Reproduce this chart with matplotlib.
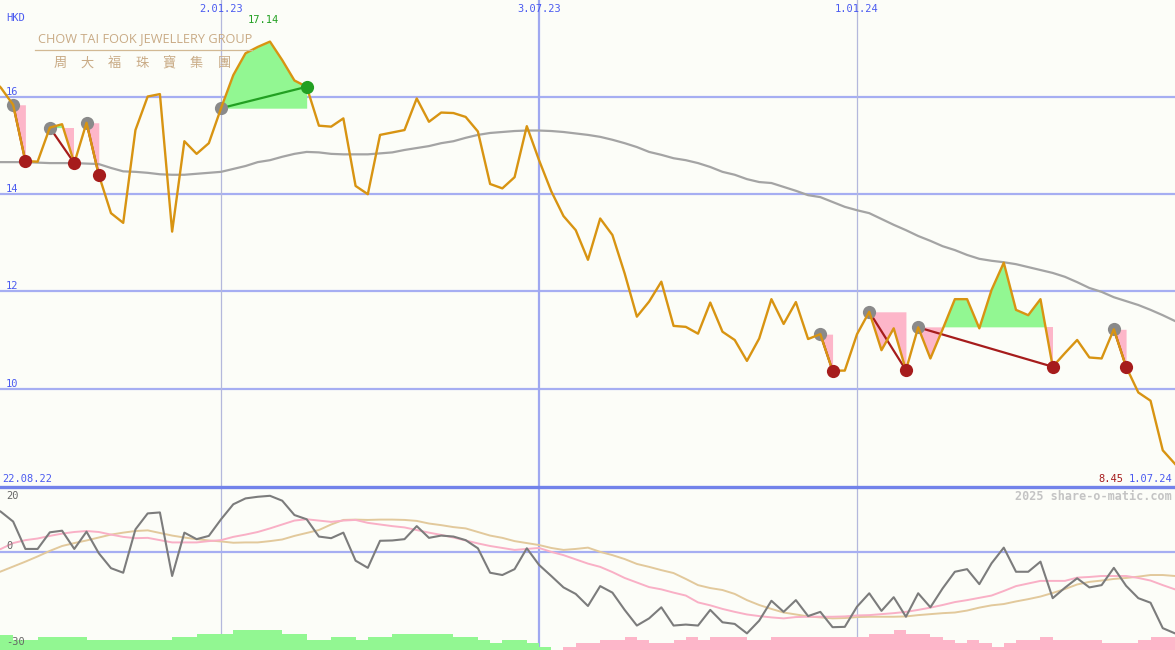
import numpy as np
import matplotlib.pyplot as plt
from matplotlib.lines import Line2D

# weekly closes, 22.08.22 .. 1.07.24 (HKD)
price = [16.45, 16.19, 15.84, 14.68, 14.67, 15.37, 15.44, 14.64, 15.47, 14.40,
         13.61, 13.41, 15.32, 16.01, 16.06, 13.23, 15.09, 14.83, 15.05, 15.77,
         16.45, 16.90, 17.03, 17.14, 16.76, 16.34, 16.21, 15.41, 15.39, 15.56,
         14.17, 14.00, 15.22, 15.27, 15.32, 15.97, 15.49, 15.68, 15.67, 15.59,
         15.29, 14.21, 14.12, 14.35, 15.40, 14.70, 14.06, 13.55, 13.26, 12.65,
         13.50, 13.16, 12.37, 11.48, 11.79, 12.20, 11.29, 11.27, 11.13, 11.77,
         11.17, 11.00, 10.57, 11.03, 11.84, 11.33, 11.78, 11.02, 11.12, 10.37,
         10.37, 11.12, 11.58, 10.79, 11.24, 10.38, 11.26, 10.62, 11.22, 11.84,
         11.84, 11.24, 12.03, 12.59, 11.62, 11.51, 11.84, 10.45, 10.73, 11.00,
         10.64, 10.62, 11.22, 10.45, 9.92, 9.75, 8.73, 8.45]

# slow moving average (grey)
ma = [14.66, 14.66, 14.66, 14.66, 14.65, 14.64, 14.64, 14.64, 14.63, 14.62,
      14.54, 14.47, 14.46, 14.44, 14.41, 14.40, 14.40, 14.42, 14.44, 14.46,
      14.52, 14.58, 14.66, 14.70, 14.77, 14.83, 14.87, 14.86, 14.83, 14.82,
      14.82, 14.82, 14.84, 14.86, 14.91, 14.95, 14.99, 15.05, 15.09, 15.16,
      15.22, 15.26, 15.28, 15.30, 15.31, 15.31, 15.30, 15.28, 15.25, 15.22,
      15.18, 15.12, 15.05, 14.97, 14.87, 14.81, 14.74, 14.70, 14.64, 14.56,
      14.46, 14.40, 14.31, 14.25, 14.23, 14.15, 14.07, 13.98, 13.94, 13.84,
      13.74, 13.67, 13.61, 13.49, 13.37, 13.26, 13.14, 13.04, 12.93, 12.85,
      12.75, 12.67, 12.63, 12.60, 12.56, 12.50, 12.44, 12.38, 12.30, 12.19,
      12.07, 11.99, 11.88, 11.80, 11.72, 11.62, 11.51, 11.39]

# indicator panel
osc = [14.5, 12.4, 9.4, 1.0, 1.0, 6.1, 6.6, 1.0, 6.3, -0.3,
       -4.9, -6.3, 7.0, 11.9, 12.2, -7.3, 6.0, 4.0, 5.0, 10.1,
       14.7, 16.5, 17.0, 17.3, 15.8, 11.4, 10.1, 4.8, 4.3, 6.0,
       -2.6, -4.8, 3.5, 3.6, 4.0, 8.0, 4.4, 5.1, 4.8, 3.7,
       1.2, -6.3, -7.0, -5.2, 1.2, -3.9, -7.3, -10.8, -12.8, -16.5,
       -10.4, -12.4, -17.7, -22.5, -20.3, -16.9, -22.5, -22.2, -22.5, -17.7,
       -21.5, -22.0, -24.9, -21.0, -14.9, -18.3, -14.7, -19.6, -18.3, -23.0,
       -22.9, -16.7, -12.6, -18.0, -13.8, -19.8, -12.6, -16.9, -11.1, -6.0,
       -5.2, -9.8, -3.4, 1.4, -6.0, -6.0, -2.9, -14.1, -10.9, -8.0,
       -10.8, -10.1, -4.8, -10.3, -14.1, -15.5, -23.3, -24.9]
osc_fast = [0.1, 1.0, 2.8, 3.7, 4.2, 5.0, 5.7, 6.2, 6.5, 6.2,
            5.4, 4.7, 4.3, 4.4, 3.7, 3.0, 3.0, 3.0, 3.4, 3.7,
            4.7, 5.4, 6.2, 7.3, 8.5, 9.7, 10.1, 9.7, 9.3, 9.7,
            9.9, 9.0, 8.5, 8.0, 7.6, 6.8, 6.0, 5.3, 4.5, 3.6,
            2.7, 1.9, 1.3, 0.7, 1.0, 1.3, 0.1, -0.9, -2.2, -3.5,
            -4.5, -6.1, -7.9, -9.3, -10.7, -11.4, -12.4, -13.3, -15.4, -16.3,
            -17.4, -18.3, -19.1, -19.6, -20.0, -20.3, -19.9, -19.8, -19.8, -19.8,
            -19.7, -19.4, -19.3, -19.0, -18.7, -18.3, -17.7, -17.0, -16.2, -15.3,
            -14.7, -14.0, -13.3, -11.9, -10.4, -9.6, -8.8, -8.8, -8.8, -7.8,
            -7.6, -7.3, -7.3, -7.3, -7.9, -8.7, -10.1, -11.4]
osc_slow = [-7.3, -5.9, -4.4, -2.9, -1.3, 0.4, 1.9, 2.8, 3.6, 4.5,
            5.4, 6.0, 6.5, 6.7, 5.9, 5.1, 4.5, 4.0, 3.6, 3.3,
            2.9, 3.0, 3.0, 3.4, 3.9, 5.0, 5.9, 6.8, 8.5, 9.9,
            10.0, 9.9, 10.0, 10.0, 9.9, 9.6, 8.8, 8.3, 7.7, 7.3,
            6.2, 5.1, 4.4, 3.4, 2.8, 2.2, 1.3, 0.7, 1.0, 1.4,
            0.1, -0.9, -2.1, -3.6, -4.5, -5.5, -6.4, -8.2, -10.1, -11.0,
            -11.6, -12.8, -14.7, -16.2, -17.4, -18.5, -19.1, -19.7, -20.0, -20.3,
            -20.2, -19.9, -19.8, -19.8, -19.8, -19.7, -19.3, -19.0, -18.7, -18.5,
            -17.9, -17.0, -16.3, -15.9, -15.1, -14.4, -13.6, -12.5, -11.3, -9.9,
            -9.1, -8.7, -8.2, -7.9, -7.5, -7.0, -7.0, -7.3]
# trend histogram (+ green / - pink), one per week
trend = [4.5, 4.5, 3, 3, 4, 4, 4, 4, 3, 3,
         3, 3, 3, 3, 3, 4, 4, 5, 5, 5,
         6, 6, 6, 6, 5, 5, 3, 3, 4, 4,
         3, 4, 4, 5, 5, 5, 5, 5, 4, 4,
         3, 2, 3, 3, 2, 1, 0, -1, -2, -2,
         -3, -3, -4, -3, -2, -2, -3, -4, -3, -4,
         -4, -4, -3, -3, -4, -4, -4, -4, -4, -4,
         -4, -4, -5, -5, -6, -5, -5, -4, -3, -2,
         -3, -2, -1, -2, -3, -3, -4, -3, -3, -3,
         -3, -2, -2, -2, -3, -4, -4]

# swing signals: start week (grey dot) -> end week
sig_start = [2, 5, 8, 19, 68, 72, 76, 92]
sig_end = [3, 7, 9, 26, 69, 75, 87, 93]

date_weeks = [19, 45, 71]
date_labels = ['2.01.23', '3.07.23', '1.01.24']
first_date = '22.08.22'
last_date = '1.07.24'
price_ticks = [16, 14, 12, 10]

W, H = 1175, 650
bg = '#fcfdf8'
blue_txt = '#4a5af0'
grid_c = '#a6aef2'
mono = 'DejaVu Sans Mono'

def px(x, y):
    return x / W, 1 - y / H

weeks = np.arange(len(price))
p = np.array(price)

fig = plt.figure(figsize=(W / 100, H / 100), dpi=100)
fig.patch.set_facecolor(bg)
ax = fig.add_axes([0, 163 / H, 1, 487 / H])
ax2 = fig.add_axes([0, 0, 1, 163 / H])
for a in (ax, ax2):
    a.set_facecolor(bg)
    a.set_xlim(0.925, 97.0)
    a.axis('off')
ax.set_ylim(7.975, 17.996)
ax2.set_ylim(-30, 20)

# grid
for v in price_ticks:
    ax.axhline(v, color=grid_c, lw=1.6, zorder=1)
    ax.text(0.005, v, str(v), transform=ax.get_yaxis_transform(), color=blue_txt,
            fontsize=7.5, family=mono, va='bottom', ha='left')
for w, lbl in zip(date_weeks, date_labels):
    thick = lbl.startswith('3.07')
    for a in (ax, ax2):
        a.axvline(w, color='#9fa8f0' if thick else '#b4b8dc', lw=1.6 if thick else 0.9, zorder=1)
    ax.text(w, 1 - 9 / 487, lbl, transform=ax.get_xaxis_transform(), color=blue_txt,
            fontsize=7.5, family=mono, ha='center', va='center')

# logo
fig.text(*px(145, 39), 'CHOW TAI FOOK JEWELLERY GROUP', color='#c9ab86', fontsize=9.2,
         family='Open Sans', ha='center', va='center')
fig.add_artist(Line2D([35 / W, 252 / W], [1 - 50 / H] * 2, color='#d2b994', lw=0.9))
for cx, ch in zip(np.linspace(60, 224, 7), '周大福珠寶集團'):
    fig.text(*px(cx, 63), ch, color='#c9ab86', fontsize=9.5, family='Noto Sans CJK TC',
             ha='center', va='center')

# swing signals
for s, e in zip(sig_start, sig_end):
    lvl = p[s]
    xs, ys = weeks[s:e + 1], p[s:e + 1]
    ax.fill_between(xs, lvl, ys, where=ys >= lvl, interpolate=True, color='#92f792', lw=0, zorder=2)
    ax.fill_between(xs, lvl, ys, where=ys <= lvl, interpolate=True, color='#fdb6c9', lw=0, zorder=2)
    c = '#22a022' if p[e] > lvl else '#a61c1c'
    ax.plot([s, e], [lvl, p[e]], color=c, lw=1.6, zorder=3)
    ax.plot(s, lvl, 'o', ms=9.5, color='#8a8a8a', mec='none', zorder=3.5)
    ax.plot(e, p[e], 'o', ms=9.5, color=c, mec='none', zorder=5)

ax.plot(weeks, ma, color='#a4a4a4', lw=1.6, zorder=2.5)
ax.plot(weeks, p, color='#d89412', lw=1.7, zorder=4)

top = int(np.argmax(p))
ax.annotate(f'{p[top]:.2f}', (top, p[top]), xytext=(-4.5, 15.5), textcoords='offset points',
            color='#22a022', fontsize=7.5, family=mono, ha='center', va='center')

fig.text(*px(2, 479), first_date, color=blue_txt, fontsize=7.5, family=mono, va='center')
fig.text(*px(1172, 479), last_date, color=blue_txt, fontsize=7.5, family=mono, ha='right', va='center')
fig.text(*px(1123, 479), f'{p[-1]:.2f}', color='#a61c1c', fontsize=7.5, family=mono,
         ha='right', va='center')
fig.text(*px(6, 18), 'HKD', color=blue_txt, fontsize=7.5, family=mono, va='center')

# indicator panel
ax2.axhline(20, color='#7282ea', lw=2.4, zorder=6, clip_on=False)
ax2.axhline(0, color=grid_c, lw=1.6, zorder=1)
cols = ['#92f792' if t > 0 else '#fdb6c9' for t in trend]
ax2.bar(weeks[:len(trend)], np.abs(trend), width=1, align='edge', bottom=-30, color=cols, lw=0, zorder=2)
ax2.plot(weeks, osc_slow, color='#e2c99c', lw=1.4, zorder=3)
ax2.plot(weeks, osc_fast, color='#f9b0c6', lw=1.4, zorder=3)
ax2.plot(weeks, osc, color='#7c7c7c', lw=1.5, zorder=4)
fig.text(*px(6, 496), '20', color='#666666', fontsize=7.5, family=mono, va='center')
fig.text(*px(6, 546), '0', color='#666666', fontsize=7.5, family=mono, va='center')
fig.text(*px(6, 642), '-30', color='#666666', fontsize=7.5, family=mono, va='center')
fig.text(*px(1172, 496), '2025 share-o-matic.com', color='#c4c4c4', fontsize=8.5,
         family=mono, weight='bold', ha='right', va='center')

fig.savefig('out.png', dpi=100, facecolor=bg)
